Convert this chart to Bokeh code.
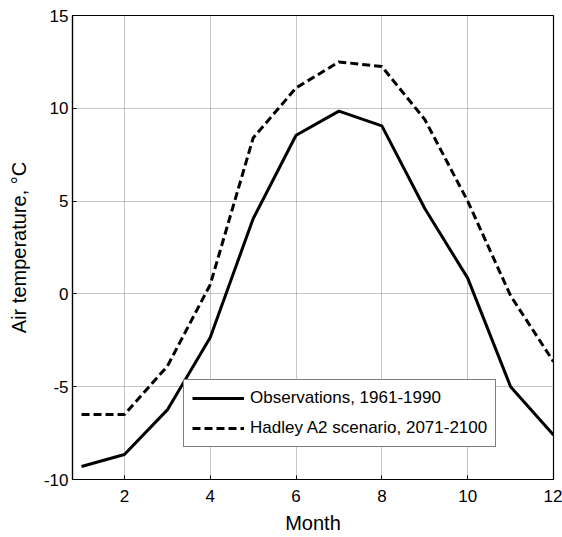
from bokeh.plotting import figure
from bokeh.models import Range1d, FixedTicker, Legend, LegendItem
from bokeh.embed import file_html
from bokeh.resources import INLINE

months = [1, 2, 3, 4, 5, 6, 7, 8, 9, 10, 11, 12]
observations = [-9.3, -8.65, -6.25, -2.35, 4.05, 8.55, 9.85, 9.05, 4.6, 0.85, -5.0, -7.6]
hadley = [-6.5, -6.5, -3.9, 0.5, 8.4, 11.1, 12.5, 12.25, 9.4, 5.0, -0.1, -3.65]
x_ticks = [2, 4, 6, 8, 10, 12]
y_ticks = [-10, -5, 0, 5, 10, 15]
y_tick_labels = ["-10", "-5", "0", "5", "10", "15"]
obs_label = "Observations, 1961-1990"
had_label = "Hadley A2 scenario, 2071-2100"

FONT = "Liberation Sans"

p = figure(width=562, height=537, output_backend="svg", toolbar_location=None,
           x_range=Range1d(0.79, 12), y_range=Range1d(-10, 15),
           min_border_left=72, min_border_right=9, min_border_top=15,
           min_border_bottom=58)
p.background_fill_color = "white"
p.border_fill_color = "white"
p.outline_line_color = "black"
p.outline_line_width = 1.2

for ax, ticks in ((p.xaxis[0], x_ticks), (p.yaxis[0], y_ticks)):
    ax.ticker = FixedTicker(ticks=ticks)
    ax.major_tick_in = 4
    ax.major_tick_out = 0
    ax.minor_tick_line_color = None
    ax.axis_line_color = "black"
    ax.axis_line_width = 1.2
    ax.major_tick_line_color = "black"
    ax.major_label_text_font = FONT
    ax.major_label_text_font_size = "17px"
    ax.major_label_text_color = "black"
    ax.axis_label_text_font = FONT
    ax.axis_label_text_font_size = "20px"
    ax.axis_label_text_font_style = "normal"
    ax.axis_label_text_color = "black"

p.yaxis[0].major_label_overrides = {t: s for t, s in zip(y_ticks, y_tick_labels)}
p.xaxis.axis_label = "Month"
p.yaxis.axis_label = "Air temperature, \u00b0C"
p.xaxis.major_label_standoff = 10
p.xaxis.axis_label_standoff = 7
p.yaxis.major_label_standoff = 4
p.yaxis.axis_label_standoff = 11

p.grid.grid_line_color = "#8c8c8c"
p.grid.grid_line_dash = "1 1"
p.grid.grid_line_width = 1
p.xgrid.ticker = FixedTicker(ticks=x_ticks)
p.ygrid.ticker = FixedTicker(ticks=y_ticks)

r1 = p.line(months, observations, line_color="black", line_width=3)
r2 = p.line(months, hadley, line_color="black", line_width=3, line_dash="8 4")

legend = Legend(items=[LegendItem(label=obs_label, renderers=[r1]),
                       LegendItem(label=had_label, renderers=[r2])],
                location=(111, 32))
legend.label_text_font = FONT
legend.label_text_font_size = "17px"
legend.label_text_color = "black"
legend.border_line_color = "black"
legend.border_line_width = 1
legend.background_fill_color = "white"
legend.background_fill_alpha = 1
legend.glyph_width = 52
legend.glyph_height = 20
legend.label_height = 20
legend.spacing = 10
legend.padding = 8
legend.margin = 0
legend.label_standoff = 6
p.add_layout(legend, "center")

open("out.html", "w").write(file_html(p, INLINE))
